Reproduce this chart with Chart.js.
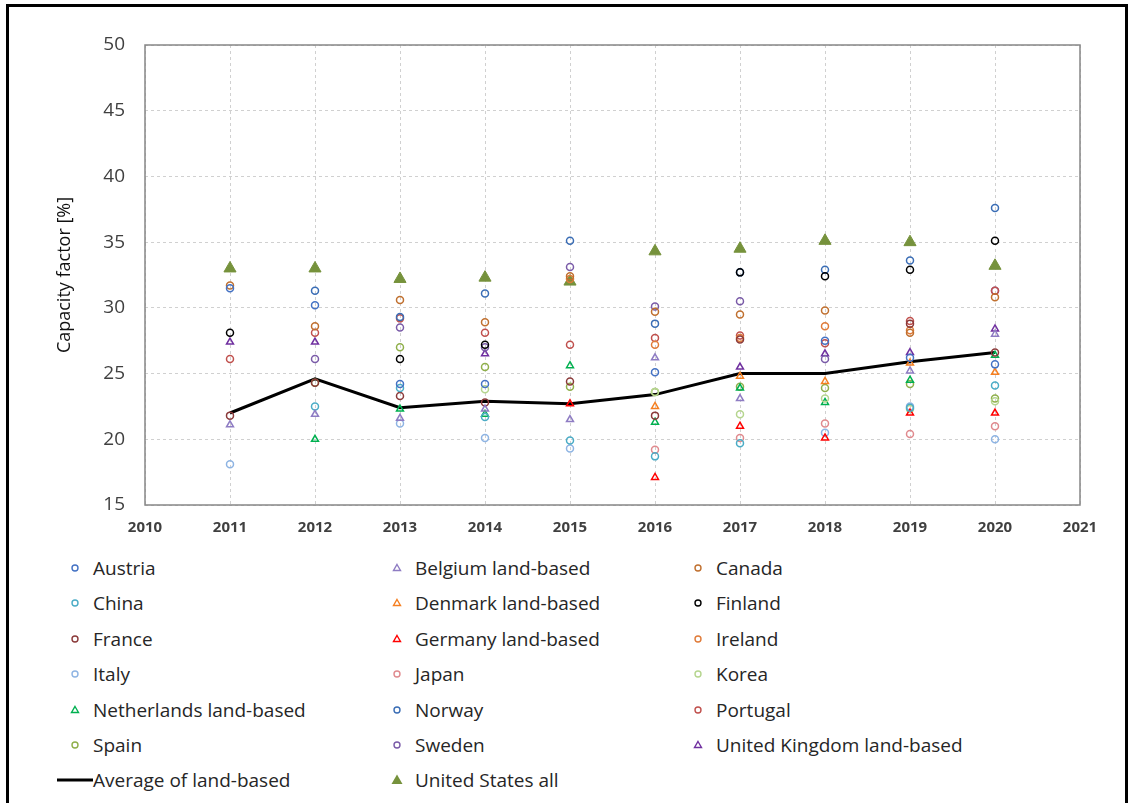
<!DOCTYPE html>
<html>
<head>
<meta charset="utf-8">
<script src="https://cdn.jsdelivr.net/npm/chart.js@4.4.0/dist/chart.umd.min.js"></script>
<style>
  body { margin: 0; background: #fff; font-family: "Open Sans", sans-serif; overflow: hidden; }
  #frame { position: absolute; left: 6px; top: 4px; width: 1122px; height: 830px; border: 3px solid #000; box-sizing: border-box; }
  #wrap { position: absolute; left: 0; top: 0; width: 1133px; height: 545px; }
  #legend { position: absolute; left: 0; top: 0; }
  .item { position: absolute; font-size: 19px; color: #262626; white-space: nowrap; line-height: 24px; }
  .item svg { position: absolute; top: 0; }
</style>
</head>
<body>
<div id="frame"></div>
<div id="wrap"><canvas id="chart"></canvas></div>
<div id="legend"></div>
<script>
const years = [2011, 2012, 2013, 2014, 2015, 2016, 2017, 2018, 2019, 2020];
const yTicks = [15, 20, 25, 30, 35, 40, 45, 50];

// capacity factor [%] per year, null = no data
const austria     = [31.5, 30.2, 24.2, 24.2, null, 25.1, null, 27.5, 26.2, 25.7];
const belgium     = [21.1, 21.9, 21.6, 22.3, 21.5, 26.2, 23.1, null, 25.2, 28.0];
const canada      = [31.7, 28.6, 30.6, 28.9, 32.4, 29.7, 29.5, 29.8, 28.1, 30.8];
const china       = [null, 22.5, 23.9, 21.7, 19.9, 18.7, 19.7, null, 22.4, 24.1];
const denmark     = [null, null, null, null, null, 22.5, 24.8, 24.4, 25.8, 25.1];
const finland     = [28.1, null, 26.1, 27.2, null, null, 32.7, 32.4, 32.9, 35.1];
const france      = [21.8, 24.3, 23.3, 22.8, 24.4, 21.8, 27.6, null, 28.8, 26.6];
const germany     = [null, null, null, null, 22.7, 17.1, 21.0, 20.1, 22.0, 22.0];
const ireland     = [null, null, null, null, 32.2, 27.2, 27.7, 28.6, 28.3, null];
const italy       = [18.1, null, 21.2, 20.1, 19.3, null, null, 20.5, 22.5, 20.0];
const japan       = [null, null, null, null, null, 19.2, 20.1, 21.2, 20.4, 21.0];
const korea       = [null, null, null, 23.8, null, 23.6, 21.9, 23.1, 22.3, 22.9];
const netherlands = [null, 20.0, 22.3, 21.9, 25.6, 21.3, 23.9, 22.8, 24.5, 26.4];
const norway      = [null, 31.3, 29.3, 31.1, 35.1, 28.8, 32.7, 32.9, 33.6, 37.6];
const portugal    = [26.1, 28.1, 29.2, 28.1, 27.2, 27.7, 27.9, 27.3, 29.0, 31.3];
const spain       = [null, 24.3, 27.0, 25.5, 24.0, 23.6, 24.0, 23.9, 24.2, 23.1];
const sweden      = [null, 26.1, 28.5, 27.0, 33.1, 30.1, 30.5, 26.1, null, 31.3];
const uk          = [27.4, 27.4, null, 26.5, null, null, 25.5, 26.5, 26.6, 28.4];
const average     = [22.0, 24.6, 22.4, 22.9, 22.7, 23.4, 25.0, 25.0, 25.9, 26.6];
const usAll       = [33.0, 33.0, 32.2, 32.3, 32.0, 34.3, 34.5, 35.1, 35.0, 33.2];

const series = [
  { label: 'Austria', values: austria, color: '#4472C4', shape: 'circle' },
  { label: 'Belgium land-based', values: belgium, color: '#8E7CC3', shape: 'triangle' },
  { label: 'Canada', values: canada, color: '#C0702F', shape: 'circle' },
  { label: 'China', values: china, color: '#4BACC6', shape: 'circle' },
  { label: 'Denmark land-based', values: denmark, color: '#F57F20', shape: 'triangle' },
  { label: 'Finland', values: finland, color: '#000000', shape: 'circle' },
  { label: 'France', values: france, color: '#8B3A3A', shape: 'circle' },
  { label: 'Germany land-based', values: germany, color: '#FF0000', shape: 'triangle' },
  { label: 'Ireland', values: ireland, color: '#E07B39', shape: 'circle' },
  { label: 'Italy', values: italy, color: '#8EB4E3', shape: 'circle' },
  { label: 'Japan', values: japan, color: '#E08A8E', shape: 'circle' },
  { label: 'Korea', values: korea, color: '#B5D58E', shape: 'circle' },
  { label: 'Netherlands land-based', values: netherlands, color: '#00B050', shape: 'triangle' },
  { label: 'Norway', values: norway, color: '#3A6DB5', shape: 'circle' },
  { label: 'Portugal', values: portugal, color: '#C0504D', shape: 'circle' },
  { label: 'Spain', values: spain, color: '#8FAF4A', shape: 'circle' },
  { label: 'Sweden', values: sweden, color: '#7A5BA8', shape: 'circle' },
  { label: 'United Kingdom land-based', values: uk, color: '#7030A0', shape: 'triangle' },
  { label: 'Average of land-based', values: average, color: '#000000', shape: 'line' },
  { label: 'United States all', values: usAll, color: '#76923C', shape: 'filled' }
];

const toPoints = vals => years.map((yr, i) => ({ x: yr, y: vals[i] })).filter(p => p.y !== null);

const datasets = series.map(s => {
  if (s.shape === 'line') {
    return { label: s.label, type: 'line', data: toPoints(s.values), borderColor: s.color,
      borderWidth: 3, pointRadius: 0, showLine: true, fill: false, order: 0 };
  }
  if (s.shape === 'filled') {
    return { label: s.label, data: toPoints(s.values), pointStyle: 'triangle', pointRadius: 7,
      backgroundColor: s.color, borderColor: s.color, borderWidth: 1 };
  }
  return { label: s.label, data: toPoints(s.values), pointStyle: s.shape,
    pointRadius: s.shape === 'triangle' ? 4 : 3.5, borderWidth: 1.5,
    backgroundColor: 'rgba(255,255,255,0)', borderColor: s.color };
});

const plotFrame = {
  id: 'plotFrame',
  afterDraw(chart) {
    const { ctx, chartArea: a } = chart;
    ctx.save();
    ctx.strokeStyle = '#868686';
    ctx.lineWidth = 1.5;
    ctx.strokeRect(a.left, a.top, a.right - a.left, a.bottom - a.top);
    ctx.restore();
  }
};

new Chart(document.getElementById('chart'), {
  type: 'scatter',
  data: { datasets },
  options: {
    responsive: true,
    maintainAspectRatio: false,
    animation: false,
    layout: { padding: { left: 50, top: 45, right: 53, bottom: 0 } },
    plugins: { legend: { display: false }, tooltip: { enabled: false } },
    scales: {
      x: {
        type: 'linear', min: 2010, max: 2021,
        ticks: { stepSize: 1, padding: 14, color: '#404040',
          font: { family: 'Open Sans', size: 15, weight: 'bold' },
          callback: v => String(v) },
        grid: { color: '#D0D0D0', drawTicks: false },
        border: { display: false, dash: [3, 3] },
        afterFit: s => { s.height = 40; }
      },
      y: {
        min: 15, max: 50,
        afterBuildTicks: s => { s.ticks = yTicks.map(v => ({ value: v })); },
        ticks: { padding: 20, color: '#404040', font: { family: 'Open Sans', size: 19 } },
        grid: { color: '#D0D0D0', drawTicks: false },
        border: { display: false, dash: [3, 3] },
        title: { display: true, text: 'Capacity factor [%]', color: '#111',
          font: { family: 'Open Sans', size: 18 }, padding: { top: 4, bottom: 0 } },
        afterFit: s => { s.width = 95; }
      }
    }
  },
  plugins: [plotFrame]
});

// legend in three columns, row-major like the original
const legend = document.getElementById('legend');
const colX = [75, 397, 698];
const rowY0 = 568, rowStep = 35.4;
series.forEach((s, i) => {
  const col = i % 3, row = Math.floor(i / 3);
  const el = document.createElement('div');
  el.className = 'item';
  const cx = colX[col];
  const cy = rowY0 + row * rowStep;
  el.style.left = (cx + 18) + 'px';
  el.style.top = (cy - 12) + 'px';
  let svg;
  if (s.shape === 'circle') {
    svg = `<svg width="12" height="24" style="left:-24px"><circle cx="6" cy="12" r="3" fill="none" stroke="${s.color}" stroke-width="1.4"/></svg>`;
  } else if (s.shape === 'triangle') {
    svg = `<svg width="12" height="24" style="left:-24px"><polygon points="6,8.5 9.5,14.5 2.5,14.5" fill="none" stroke="${s.color}" stroke-width="1.4"/></svg>`;
  } else if (s.shape === 'filled') {
    svg = `<svg width="14" height="24" style="left:-25px"><polygon points="7,6.5 12.5,16 1.5,16" fill="${s.color}"/></svg>`;
  } else {
    svg = `<svg width="36" height="24" style="left:-36px"><line x1="0" y1="12" x2="36" y2="12" stroke="#000" stroke-width="3"/></svg>`;
  }
  el.innerHTML = svg + s.label;
  legend.appendChild(el);
});
</script>
</body>
</html>
